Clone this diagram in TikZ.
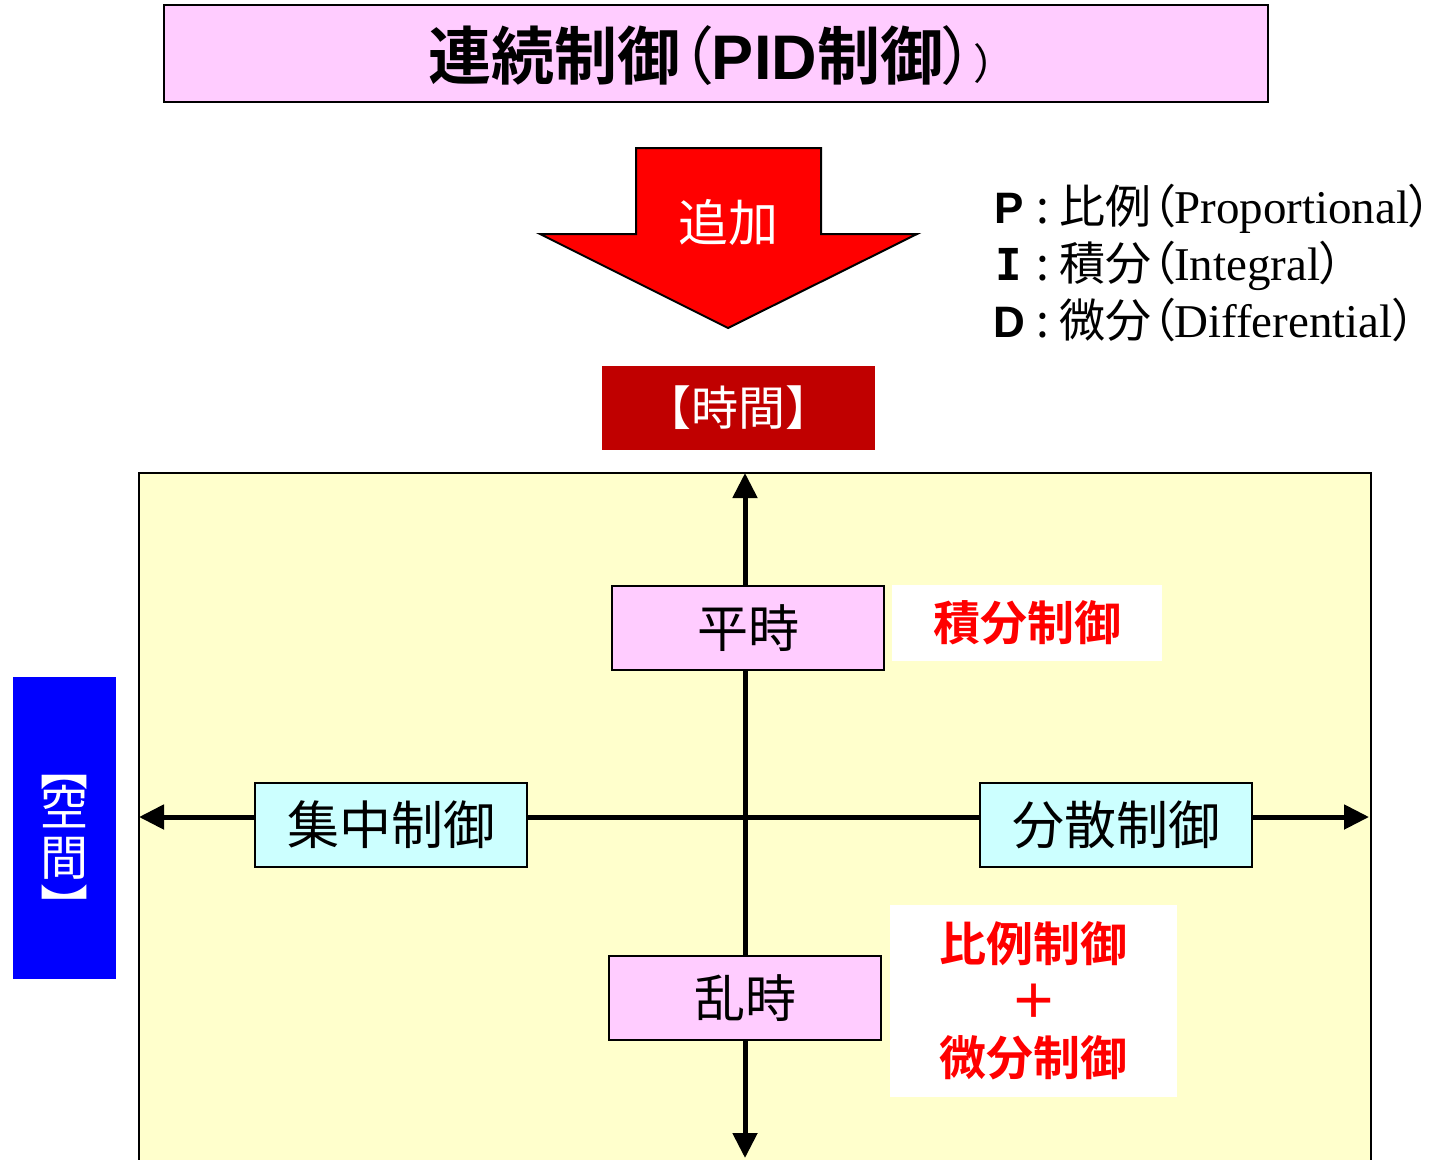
\documentclass[tikz,border=0pt]{standalone}
\usepackage{fontspec}
\setmainfont{Noto Sans CJK JP}[BoldFont={* Bold}]
\newfontfamily\jp{Noto Sans CJK JP}[BoldFont={* Bold}]
\newfontfamily\jpp{Noto Sans CJK JP}[RawFeature=+palt]
\newfontfamily\arialf{Liberation Sans}
\newfontfamily\tnr{Liberation Serif}
\newfontfamily\slabf{DejaVu Sans Mono}
\usetikzlibrary{arrows.meta}
\newcommand\fsz[1]{\fontsize{#1}{#1}\selectfont}
\definecolor{pinkc}{HTML}{FFCCFF}
\definecolor{cyanc}{HTML}{CCFFFF}
\definecolor{yellowc}{HTML}{FFFFCC}
\definecolor{darkredc}{HTML}{C00000}
\definecolor{bluec}{HTML}{0000FF}
\definecolor{redc}{HTML}{FF0000}
\begin{document}
\begin{tikzpicture}[x=1pt,y=-1pt,line join=miter,
  box/.style={draw=black,line width=2pt,inner sep=0pt,minimum width=272pt,minimum height=84pt,font=\jp\fsz{51}},
  pinkbox/.style={box,fill=pinkc},
  cyanbox/.style={box,fill=cyanc},
  redtext/.style={fill=white,inner sep=0pt,text=redc,font=\jp\bfseries\fsz{47}},
  axisline/.style={line width=5pt,{Triangle[length=25pt,width=24pt]}-{Triangle[length=25pt,width=24pt]}},
  legendkey/.style={anchor=base,inner sep=0pt,font=\arialf\bfseries\fsz{44}},
  legendtext/.style={anchor=base west,inner sep=0pt,font=\jp\fsz{46}},
  vchar/.style={inner sep=0pt,text=white,font=\jp\fsz{48}}]
\useasboundingbox (0,0) rectangle (1439,1159);
\clip (0,0) rectangle (1439,1159);

% title
\node[draw=black,line width=2pt,fill=pinkc,minimum width=1104pt,minimum height=97pt,inner sep=0pt] (title) at (716,53.5) {};
\node[inner sep=0pt,anchor=base] (titletext) at (712,79)
  {{\jp\bfseries\fsz{63}連続制御}{\jpp\fsz{63}（}{\arialf\bfseries\fsz{63}PID}{\jp\bfseries\fsz{63}制御}{\jpp\fsz{63}）}{\jpp\fsz{42}）}};

% red arrow
\draw[fill=redc,line width=2pt] (636,148) -- (821,148) -- (821,234) -- (917,234) -- (728,328) -- (540,234) -- (636,234) -- cycle;
\node[text=white,font=\jp\fsz{50},inner sep=0pt] (add) at (728,222) {追加};

% legend
\node[legendkey] (kp) at (1009,223) {P};
\node[legendtext] (tp) at (1036,223) {:~比例{\jpp （}{\tnr\fsz{47}Proportional}{\jpp ）}};
\node[legendkey,font=\slabf\bfseries\fsz{44}] (ki) at (1009,280) {I};
\node[legendtext] (ti) at (1036,280) {:~積分{\jpp （}{\tnr\fsz{47}Integral}{\jpp ）}};
\node[legendkey] (kd) at (1009,337) {D};
\node[legendtext] (td) at (1036,337) {:~微分{\jpp （}{\tnr\fsz{47}Differential}{\jpp ）}};

% time label
\node[fill=darkredc,minimum width=273pt,minimum height=84pt,inner sep=0pt,text=white,font=\jp\fsz{47}] (jikan) at (738.5,408) {【時間】};

% space label
\node[fill=bluec,minimum width=103pt,minimum height=302pt,inner sep=0pt] (kukan) at (64.5,828) {};
\node[vchar] (k0) at (64,782) {︻};
\node[vchar] (k1) at (64,807) {空};
\node[vchar] (k2) at (64,858) {間};
\node[vchar] (k3) at (64,905) {︼};

% field
\node[draw=black,line width=2pt,fill=yellowc,anchor=north west,minimum width=1232pt,minimum height=720pt,inner sep=0pt] (field) at (138,472) {};

% axes
\coordinate (vt) at (745,473);
\coordinate (vb) at (745,1158);
\coordinate (hl) at (139,817);
\coordinate (hr) at (1369,817);
\draw[axisline] (vb) -- (vt);
\draw[axisline] (hl) -- (hr);

% boxes
\node[pinkbox] (heiji) at (748,628) {平時};
\node[redtext,minimum width=270pt,minimum height=76pt] (sekibun) at (1027,623) {積分制御};
\node[cyanbox,font=\jp\fsz{52}] (shuchu) at (391,824.5) {集中制御};
\node[cyanbox,font=\jp\fsz{52}] (bunsan) at (1116,824.5) {分散制御};
\node[pinkbox] (ranji) at (745,998) {乱時};
\node[redtext,minimum width=287pt,minimum height=192pt,align=center,font=\jp\bfseries\fontsize{47}{57}\selectfont] (pd) at (1033.5,1001) {比例制御\\＋\\微分制御};
\end{tikzpicture}
\end{document}
